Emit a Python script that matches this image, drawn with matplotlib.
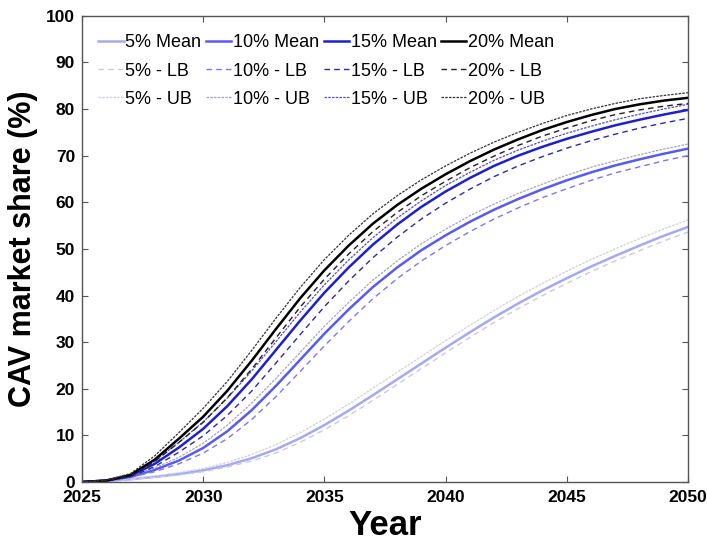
import matplotlib.pyplot as plt
import numpy as np

years = np.arange(2025, 2051)

# market share projections (%) per penetration scenario
mean_5 = [0, 0.2, 0.6, 1.1, 1.7, 2.5, 3.6, 5.1, 7.0, 9.4, 12.2, 15.3, 18.6, 22.0, 25.4,
          28.8, 32.1, 35.3, 38.3, 41.1, 43.7, 46.2, 48.5, 50.7, 52.8, 54.7]
lb_5 = [0, 0.2, 0.5, 1.0, 1.5, 2.2, 3.2, 4.5, 6.2, 8.5, 11.2, 14.2, 17.5, 20.9, 24.3,
        27.7, 31.0, 34.2, 37.2, 40.0, 42.6, 45.1, 47.4, 49.6, 51.7, 53.6]
ub_5 = [0, 0.3, 0.7, 1.3, 2.0, 2.9, 4.2, 5.9, 8.0, 10.6, 13.5, 16.7, 20.1, 23.5, 26.9,
        30.3, 33.6, 36.8, 39.8, 42.6, 45.2, 47.7, 50.0, 52.2, 54.3, 56.2]

mean_10 = [0, 0.3, 1.1, 2.6, 4.6, 7.3, 10.9, 15.4, 20.6, 26.2, 31.8, 37.0, 41.8, 46.0, 49.7,
           52.9, 55.8, 58.4, 60.7, 62.8, 64.7, 66.4, 67.9, 69.2, 70.4, 71.5]
lb_10 = [0, 0.3, 1.0, 2.2, 3.9, 6.2, 9.3, 13.4, 18.3, 23.7, 29.2, 34.4, 39.3, 43.6, 47.4,
         50.7, 53.7, 56.4, 58.8, 61.0, 62.9, 64.7, 66.3, 67.6, 68.9, 70.0]
ub_10 = [0, 0.4, 1.3, 3.0, 5.3, 8.3, 12.2, 16.9, 22.2, 27.8, 33.4, 38.5, 43.3, 47.4, 51.1,
         54.2, 57.1, 59.6, 61.9, 63.9, 65.8, 67.5, 68.9, 70.2, 71.4, 72.5]

mean_15 = [0, 0.3, 1.3, 3.9, 7.4, 11.4, 16.3, 22.0, 28.3, 34.6, 40.6, 46.0, 50.9, 55.2, 59.0,
           62.3, 65.2, 67.8, 70.0, 71.9, 73.6, 75.1, 76.5, 77.7, 78.8, 79.8]
lb_15 = [0, 0.3, 1.1, 3.3, 6.4, 9.9, 14.3, 19.5, 25.5, 31.6, 37.6, 43.1, 48.1, 52.5, 56.4,
         59.8, 62.8, 65.5, 67.8, 69.8, 71.6, 73.2, 74.6, 75.9, 77.0, 78.0]
ub_15 = [0, 0.4, 1.5, 4.5, 8.5, 12.9, 18.0, 23.8, 30.1, 36.4, 42.3, 47.6, 52.4, 56.6, 60.3,
         63.6, 66.4, 69.0, 71.2, 73.1, 74.8, 76.3, 77.7, 78.9, 80.0, 81.0]

mean_20 = [0, 0.3, 1.5, 4.8, 9.3, 14.0, 19.6, 26.0, 32.8, 39.4, 45.4, 50.7, 55.4, 59.4, 62.9,
           66.0, 68.8, 71.3, 73.5, 75.5, 77.2, 78.7, 80.0, 81.0, 81.8, 82.4]
lb_20 = [0, 0.3, 1.3, 4.4, 8.5, 12.8, 18.1, 24.2, 30.9, 37.5, 43.5, 48.9, 53.7, 57.8, 61.4,
         64.5, 67.4, 69.9, 72.2, 74.2, 75.9, 77.5, 78.8, 79.8, 80.6, 81.2]
ub_20 = [0, 0.4, 1.8, 5.6, 10.6, 15.8, 21.6, 28.2, 35.1, 41.7, 47.7, 52.9, 57.5, 61.4, 64.8,
         67.8, 70.5, 72.9, 75.0, 76.9, 78.6, 80.0, 81.2, 82.2, 82.9, 83.5]

labels = ['5%', '10%', '15%', '20%']
means = [mean_5, mean_10, mean_15, mean_20]
lbs = [lb_5, lb_10, lb_15, lb_20]
ubs = [ub_5, ub_10, ub_15, ub_20]

mean_colors = ['#a8a8f0', '#5a5aee', '#1f1fcc', '#000000']
lb_colors = ['#c8c8f4', '#7a7ae6', '#2a2aa8', '#222222']
ub_colors = ['#cfcfdc', '#a4a4c0', '#5050c8', '#333333']

plt.rcParams['font.family'] = 'Liberation Sans'

fig = plt.figure(figsize=(7.07, 5.44), dpi=100)
ax = fig.add_axes([0.116, 0.114, 0.857, 0.857])

handles = []
for i in range(4):
    h1, = ax.plot(years, means[i], color=mean_colors[i], lw=1.8, label=f'{labels[i]} Mean')
    h2, = ax.plot(years, lbs[i], color=lb_colors[i], lw=1.0, ls=(0, (4, 3)), label=f'{labels[i]} - LB')
    h3, = ax.plot(years, ubs[i], color=ub_colors[i], lw=0.9, ls=(0, (2, 1)), label=f'{labels[i]} - UB')
    handles += [h1, h2, h3]

ax.set_xlim(2025, 2050)
ax.set_ylim(0, 100)
ax.set_xticks(range(2025, 2051, 5))
ax.set_yticks(range(0, 101, 10))
ax.tick_params(direction='in', top=True, right=True, length=4, color='#555555',
               labelsize=12.5)
ax.tick_params(axis='x', pad=6)
ax.tick_params(axis='y', pad=5)
for lab in ax.get_xticklabels() + ax.get_yticklabels():
    lab.set_fontweight('bold')
for sp in ax.spines.values():
    sp.set_color('#555555')
    sp.set_linewidth(1.0)

ax.set_xlabel('Year', fontsize=25, fontweight='bold', labelpad=3)
ax.set_ylabel('CAV market share (%)', fontsize=22, fontweight='bold', labelpad=6)

ax.legend(handles=handles, ncol=4, loc='upper left', bbox_to_anchor=(0.0, 0.995),
          frameon=False, fontsize=13, handlelength=1.4, handletextpad=0.1,
          columnspacing=0.25, labelspacing=0.62)

fig.savefig('out.png', dpi=100)
